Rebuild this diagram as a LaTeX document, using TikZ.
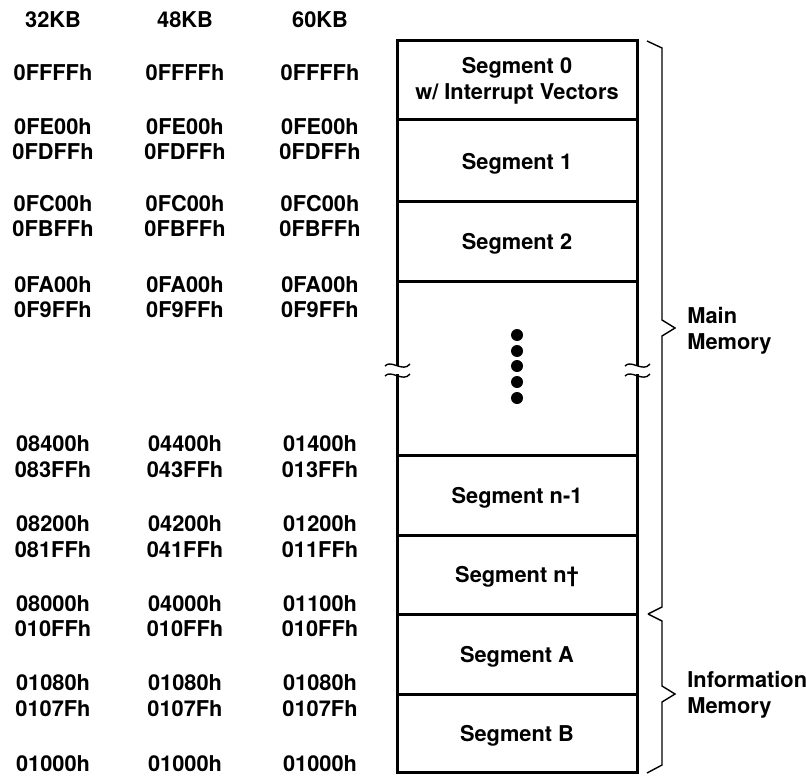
\documentclass[tikz,border=0pt]{standalone}
\usepackage{fontspec}
\setmainfont{TeX Gyre Heros}

\tikzset{
  wall/.style = {line width = 1.5pt, line cap = rect},
  brace/.style = {line width = 0.7pt, line join = miter},
  addr/.style = {inner sep = 0pt, anchor = center}
}

\begin{document}
\begin{tikzpicture}[x = 0.5pt, y = -0.5pt, font = \bfseries\fontsize{10.9}{13.2}\selectfont]
  \useasboundingbox (0, 0) rectangle (806, 775);

  \pgfmathsetmacro{\xL}{397}
  \pgfmathsetmacro{\xR}{637}
  \pgfmathsetmacro{\xM}{(\xL + \xR)/2}
  \pgfmathsetmacro{\yT}{41}
  \pgfmathsetmacro{\yB}{772}
  \pgfmathsetmacro{\xB}{662}

  % memory block
  \draw[wall] (\xL, \yT) rectangle (\xR, \yB);
  \foreach \y in {120, 201, 281, 455, 535, 614, 694}{
    \draw[wall] (\xL, \y) -- (\xR, \y);
  }

  % break marks on both walls
  \foreach \x in {\xL, \xR}{
    \fill[white] (\x - 3, 366) rectangle (\x + 3, 374);
    \draw[line width = 0.7pt] (\x - 12, 366) .. controls (\x - 6, 359) and (\x + 6, 373) .. (\x + 13, 364);
    \draw[line width = 0.7pt] (\x - 12, 376) .. controls (\x - 6, 369) and (\x + 6, 383) .. (\x + 13, 374);
  }

  \foreach \y in {335, 351, 366, 382, 398}{
    \fill[black] (\xM, \y) circle[radius = 3pt];
  }

  % segment names
  \node[align = center] (seg0) at (\xM, 81) {Segment 0\\w/ Interrupt Vectors};
  \node (seg1) at (\xM, 164) {Segment 1};
  \node (seg2) at (\xM, 244) {Segment 2};
  \node (segm) at (\xM, 498) {Segment n-1};
  \node (segn) at (\xM, 577) {Segment n\textdagger};
  \node (segA) at (\xM, 657) {Segment A};
  \node (segB) at (\xM, 736) {Segment B};

  % address columns
  \foreach \y/\a/\b/\c [count = \r] in {
      20/32KB/48KB/60KB,
      73/0FFFFh/0FFFFh/0FFFFh,
      127/0FE00h/0FE00h/0FE00h,
      152/0FDFFh/0FDFFh/0FDFFh,
      204/0FC00h/0FC00h/0FC00h,
      229/0FBFFh/0FBFFh/0FBFFh,
      285/0FA00h/0FA00h/0FA00h,
      310/0F9FFh/0F9FFh/0F9FFh,
      444/08400h/04400h/01400h,
      470/083FFh/043FFh/013FFh,
      524/08200h/04200h/01200h,
      550/081FFh/041FFh/011FFh,
      604/08000h/04000h/01100h,
      629/010FFh/010FFh/010FFh,
      683/01080h/01080h/01080h,
      709/0107Fh/0107Fh/0107Fh,
      764/01000h/01000h/01000h}{
    \node[addr] (a1-\r) at (53, \y) {\a};
    \node[addr] (a2-\r) at (185, \y) {\b};
    \node[addr] (a3-\r) at (320, \y) {\c};
  }

  % braces
  \draw[brace] (647, \yT) -- (\xB, 48) -- (\xB, 320) -- (675, 328) -- (\xB, 336)
    -- (\xB, 607) -- (648, 614);
  \draw[brace] (648, 614) -- (\xB, 621) -- (\xB, 686) -- (675, 694) -- (\xB, 702)
    -- (\xB, 765) -- (647, 773);

  \node[addr, anchor = west, align = left] (main) at (687, 331) {Main\\Memory};
  \node[addr, anchor = west, align = left] (info) at (687, 695) {Information\\Memory};
\end{tikzpicture}
\end{document}
